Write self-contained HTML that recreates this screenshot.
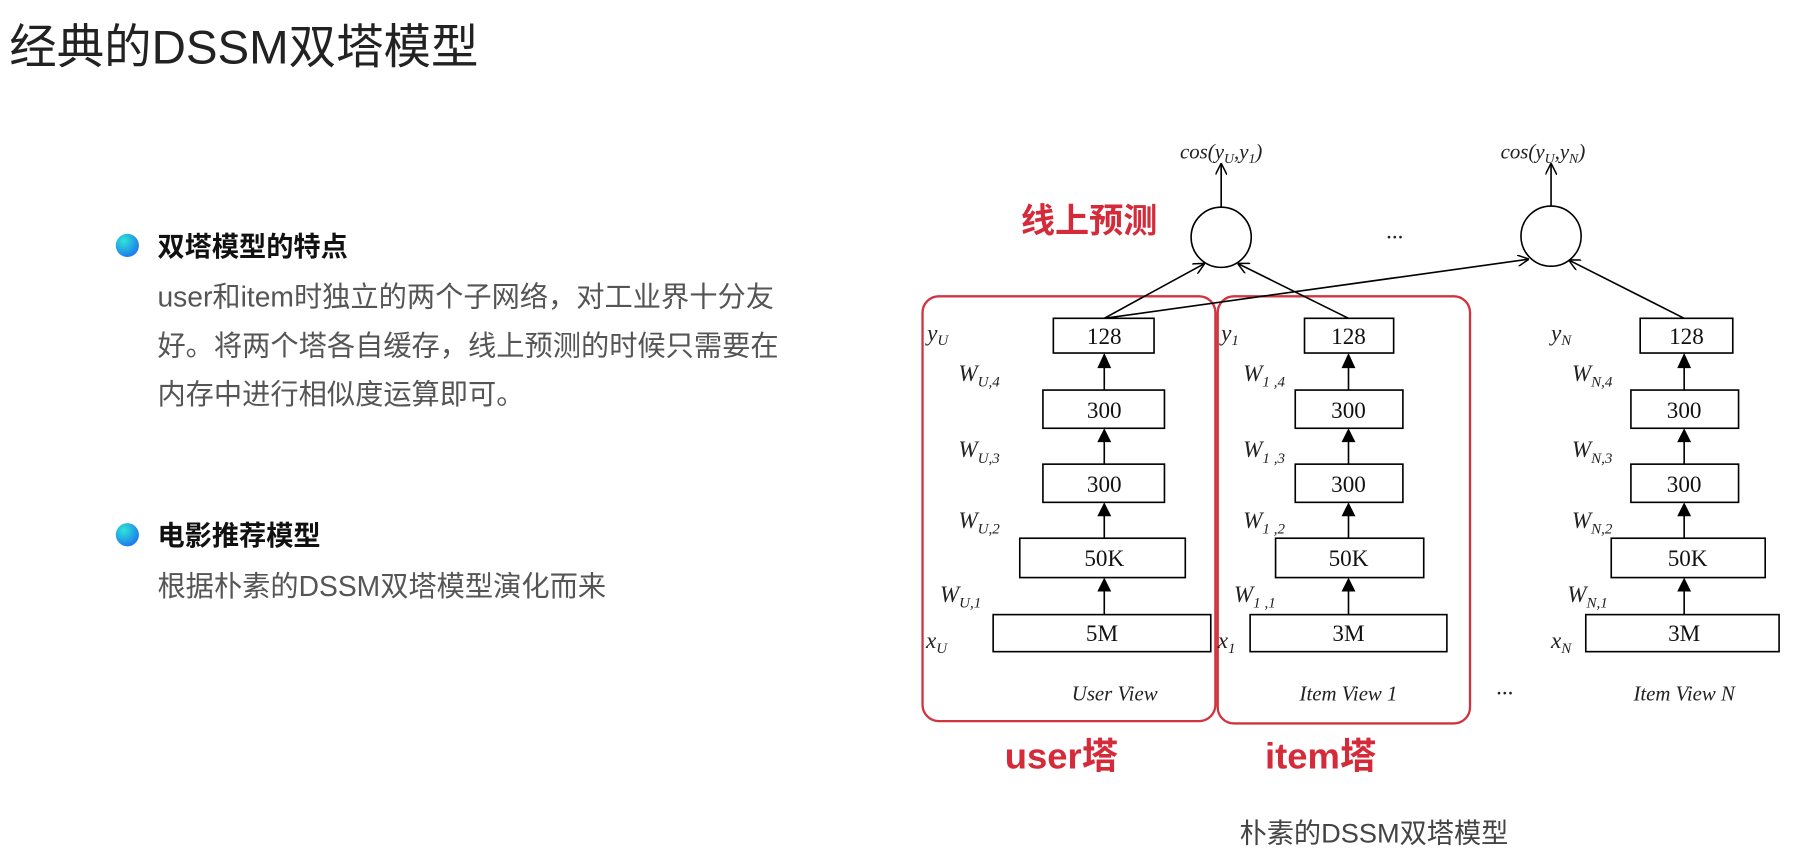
<!DOCTYPE html>
<html><head><meta charset="utf-8"><style>
html,body{margin:0;padding:0;background:#fff;}
svg{display:block;}
</style></head><body>
<svg width="1815" height="860" viewBox="0 0 1568 743" xmlns="http://www.w3.org/2000/svg">
<defs>
<radialGradient id="bg1" cx="0.35" cy="0.3" r="0.8"><stop offset="0" stop-color="#2ee6d6"/><stop offset="1" stop-color="#1a6ff0"/></radialGradient>
<marker id="ah" markerWidth="10" markerHeight="10" refX="9" refY="5" orient="auto" markerUnits="userSpaceOnUse"><path d="M0,0 L10,5 L0,10" fill="none" stroke="#000" stroke-width="1.3"/></marker>
</defs>
<g font-family="'Liberation Sans','Noto Sans CJK SC',sans-serif">
<text x="8" y="55" font-size="41" fill="#222">经典的DSSM双塔模型</text>
<circle cx="110" cy="212" r="10" fill="url(#bg1)"/>
<text x="136" y="221" font-size="23.5" font-weight="bold" fill="#111">双塔模型的特点</text>
<text font-size="24.4" fill="#555"><tspan x="136" y="265">user和item时独立的两个子网络，对工业界十分友</tspan><tspan x="136" y="307">好。将两个塔各自缓存，线上预测的时候只需要在</tspan><tspan x="136" y="349">内存中进行相似度运算即可。</tspan></text>
<circle cx="110" cy="462" r="10" fill="url(#bg1)"/>
<text x="136" y="471" font-size="23.5" font-weight="bold" fill="#111">电影推荐模型</text>
<text x="136" y="515" font-size="24.4" fill="#555">根据朴素的DSSM双塔模型演化而来</text>
<text x="1187" y="728" font-size="23.5" fill="#444" text-anchor="middle">朴素的DSSM双塔模型</text>
<text x="882" y="201" font-size="29.5" font-weight="bold" fill="#d42a3a">线上预测</text>
<text x="917" y="664" font-size="31.5" font-weight="bold" fill="#d42a3a" text-anchor="middle">user塔</text>
<text x="1141" y="664" font-size="31.5" font-weight="bold" fill="#d42a3a" text-anchor="middle">item塔</text>
</g>
<g fill="none" stroke="#d0343f" stroke-width="2">
<rect x="797" y="256" width="253" height="367" rx="14"/>
<rect x="1052" y="256" width="218" height="369" rx="14"/>
</g>
<g fill="none" stroke="#000" stroke-width="1.4">
<circle cx="1055" cy="205" r="26"/>
<circle cx="1340" cy="204" r="26"/>
<line x1="1055" y1="179" x2="1055" y2="142" marker-end="url(#ah)"/>
<line x1="1340" y1="178" x2="1340" y2="142" marker-end="url(#ah)"/>
<line x1="954" y1="275" x2="1040" y2="228" marker-end="url(#ah)"/>
<line x1="954" y1="275" x2="1320" y2="224" marker-end="url(#ah)"/>
<line x1="1165" y1="275" x2="1070" y2="228" marker-end="url(#ah)"/>
<line x1="1455" y1="275" x2="1356" y2="225" marker-end="url(#ah)"/>
</g>
<g font-family="'Liberation Serif',serif" font-style="italic" fill="#222" font-size="18">
<text x="1055" y="137" text-anchor="middle">cos(y<tspan font-size="12" dy="4">U</tspan><tspan dy="-4">,y</tspan><tspan font-size="12" dy="4">1</tspan><tspan dy="-4">)</tspan></text>
<text x="1333" y="137" text-anchor="middle">cos(y<tspan font-size="12" dy="4">U</tspan><tspan dy="-4">,y</tspan><tspan font-size="12" dy="4">N</tspan><tspan dy="-4">)</tspan></text>
<text x="963" y="605" text-anchor="middle">User View</text>
<text x="1165" y="605" text-anchor="middle">Item View 1</text>
<text x="1455" y="605" text-anchor="middle">Item View N</text>
</g>
<g font-family="'Liberation Serif',serif" fill="#222" font-size="20">
<text x="1205" y="206" text-anchor="middle">...</text>
<text x="1300" y="600" text-anchor="middle">...</text>
</g>
<g font-family="'Liberation Serif',serif" font-size="20" text-anchor="middle">
<g stroke="#000" stroke-width="1.4" fill="#fff">
<rect x="910" y="275" width="87" height="30"/><rect x="901" y="337" width="105" height="33"/><rect x="901" y="401" width="105" height="33"/><rect x="881" y="465" width="143" height="34"/><rect x="858" y="531" width="188" height="32"/>
<rect x="1127" y="275" width="77" height="30"/><rect x="1119" y="337" width="93" height="33"/><rect x="1119" y="401" width="93" height="33"/><rect x="1102" y="465" width="128" height="34"/><rect x="1080" y="531" width="170" height="32"/>
<rect x="1417" y="275" width="80" height="30"/><rect x="1409" y="337" width="93" height="33"/><rect x="1409" y="401" width="93" height="33"/><rect x="1392" y="465" width="133" height="34"/><rect x="1370" y="531" width="167" height="32"/>
</g>
<g stroke="#000" stroke-width="1.4">
<line x1="954" y1="337" x2="954" y2="316"/><line x1="954" y1="401" x2="954" y2="380"/><line x1="954" y1="465" x2="954" y2="444"/><line x1="954" y1="531" x2="954" y2="509"/>
<line x1="1165" y1="337" x2="1165" y2="316"/><line x1="1165" y1="401" x2="1165" y2="380"/><line x1="1165" y1="465" x2="1165" y2="444"/><line x1="1165" y1="531" x2="1165" y2="509"/>
<line x1="1455" y1="337" x2="1455" y2="316"/><line x1="1455" y1="401" x2="1455" y2="380"/><line x1="1455" y1="465" x2="1455" y2="444"/><line x1="1455" y1="531" x2="1455" y2="509"/>
</g>
<g fill="#000">
<path d="M948,318 L954,305 L960,318Z"/><path d="M948,382 L954,370 L960,382Z"/><path d="M948,446 L954,434 L960,446Z"/><path d="M948,511 L954,499 L960,511Z"/>
<path d="M1159,318 L1165,305 L1171,318Z"/><path d="M1159,382 L1165,370 L1171,382Z"/><path d="M1159,446 L1165,434 L1171,446Z"/><path d="M1159,511 L1165,499 L1171,511Z"/>
<path d="M1449,318 L1455,305 L1461,318Z"/><path d="M1449,382 L1455,370 L1461,382Z"/><path d="M1449,446 L1455,434 L1461,446Z"/><path d="M1449,511 L1455,499 L1461,511Z"/>
</g>
<g fill="#111">
<text x="954" y="297">128</text><text x="954" y="361">300</text><text x="954" y="425">300</text><text x="954" y="489">50K</text><text x="952" y="554">5M</text>
<text x="1165" y="297">128</text><text x="1165" y="361">300</text><text x="1165" y="425">300</text><text x="1165" y="489">50K</text><text x="1165" y="554">3M</text>
<text x="1457" y="297">128</text><text x="1455" y="361">300</text><text x="1455" y="425">300</text><text x="1458" y="489">50K</text><text x="1455" y="554">3M</text>
</g>
</g>
<g font-family="'Liberation Serif',serif" font-style="italic" fill="#222" font-size="20">
<text x="801" y="294">y<tspan font-size="13" dy="4">U</tspan></text>
<text x="828" y="329">W<tspan font-size="13" dy="5">U,4</tspan></text>
<text x="828" y="395">W<tspan font-size="13" dy="5">U,3</tspan></text>
<text x="828" y="456">W<tspan font-size="13" dy="5">U,2</tspan></text>
<text x="812" y="520">W<tspan font-size="13" dy="5">U,1</tspan></text>
<text x="800" y="560">x<tspan font-size="13" dy="4">U</tspan></text>
<text x="1055" y="294">y<tspan font-size="13" dy="4">1</tspan></text>
<text x="1074" y="329">W<tspan font-size="13" dy="5">1 ,4</tspan></text>
<text x="1074" y="395">W<tspan font-size="13" dy="5">1 ,3</tspan></text>
<text x="1074" y="456">W<tspan font-size="13" dy="5">1 ,2</tspan></text>
<text x="1066" y="520">W<tspan font-size="13" dy="5">1 ,1</tspan></text>
<text x="1052" y="560">x<tspan font-size="13" dy="4">1</tspan></text>
<text x="1340" y="294">y<tspan font-size="13" dy="4">N</tspan></text>
<text x="1358" y="329">W<tspan font-size="13" dy="5">N,4</tspan></text>
<text x="1358" y="395">W<tspan font-size="13" dy="5">N,3</tspan></text>
<text x="1358" y="456">W<tspan font-size="13" dy="5">N,2</tspan></text>
<text x="1354" y="520">W<tspan font-size="13" dy="5">N,1</tspan></text>
<text x="1340" y="560">x<tspan font-size="13" dy="4">N</tspan></text>
</g>
</svg>
</body></html>
